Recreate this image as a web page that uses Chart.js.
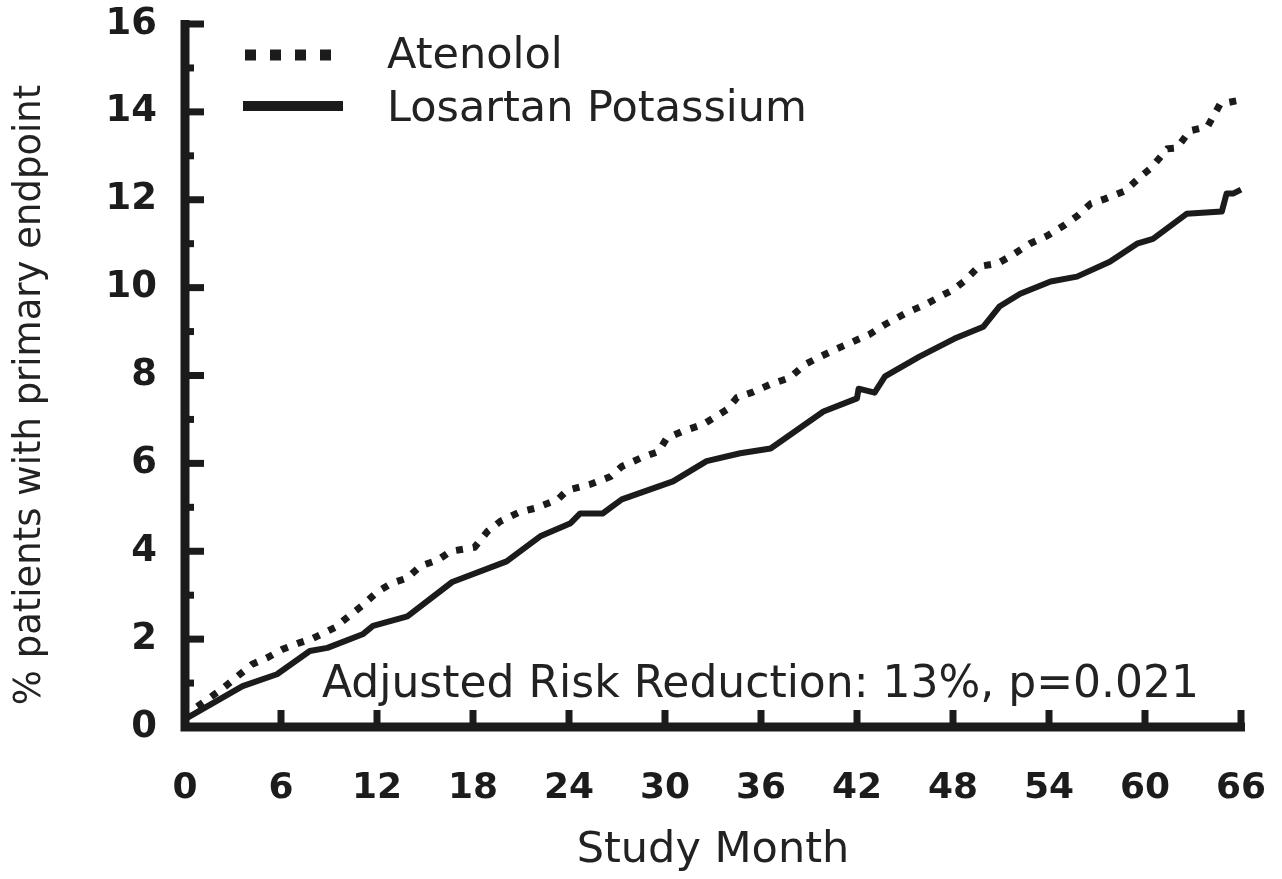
<!DOCTYPE html>
<html lang="en">
<head>
  <title>Primary endpoint by study month</title>
  <script src="https://cdn.jsdelivr.net/npm/chart.js"></script>
  <style>
    body { margin: 0; background: #fff; }
    .chart-container { width: 1282px; height: 879px; }
  </style>
</head>
<body>
  <div class="chart-container">
    <canvas id="endpointChart"></canvas>
  </div>

  <script>
    // Cumulative % of patients reaching the primary endpoint
    const atenololMonths = [0, 0.5, 1.25, 2.3, 3.3, 4.2, 5.1, 6.1, 7.1, 8.0, 9.4, 10.1, 11.1, 12.0, 12.9, 13.9,
      14.7, 15.8, 16.6, 18.1, 18.9, 19.7, 20.9, 21.9, 23.3, 23.9, 25.3, 26.6, 27.3, 28.6, 29.6, 30.1,
      31.1, 32.4, 33.9, 34.5, 35.4, 36.6, 37.8, 38.75, 39.6, 40.75, 41.75, 42.75, 43.75, 45.1, 46.25,
      47.2, 48.0, 48.75, 49.6, 50.8, 51.75, 52.8, 53.9, 55.0, 55.8, 56.6, 57.5, 58.75, 59.7, 60.4,
      61.4, 62.0, 62.8, 63.9, 64.7, 66.0];
    const atenololPct = [0.2, 0.4, 0.59, 0.86, 1.16, 1.43, 1.57, 1.77, 1.91, 2.02, 2.27, 2.48, 2.77, 3.07, 3.27, 3.39,
      3.66, 3.8, 4.0, 4.09, 4.45, 4.68, 4.89, 4.98, 5.18, 5.39, 5.52, 5.7, 5.93, 6.14, 6.27, 6.57,
      6.73, 6.89, 7.23, 7.5, 7.61, 7.8, 7.95, 8.25, 8.41, 8.61, 8.77, 8.93, 9.16, 9.43, 9.61,
      9.8, 9.95, 10.16, 10.48, 10.55, 10.75, 11.0, 11.18, 11.43, 11.64, 11.91, 12.02, 12.2, 12.52, 12.73,
      13.16, 13.18, 13.57, 13.66, 14.18, 14.27];

    const losartanMonths = [0, 3.6, 5.75, 7.8, 8.9, 11.1, 11.75, 13.9, 16.7, 20.1, 22.2, 24.1, 24.7, 26.1,
      27.3, 30.5, 32.6, 34.7, 36.6, 39.9, 42.0, 42.1, 43.1, 43.75, 45.9, 48.1, 49.9, 50.9, 52.2,
      54.1, 55.75, 57.8, 59.5, 60.5, 62.6, 64.8, 65.1, 65.5, 66.0];
    const losartanPct = [0.18, 0.93, 1.2, 1.73, 1.8, 2.11, 2.3, 2.52, 3.3, 3.77, 4.34, 4.64, 4.86, 4.86,
      5.18, 5.59, 6.05, 6.23, 6.34, 7.18, 7.48, 7.7, 7.61, 7.98, 8.43, 8.84, 9.11, 9.57, 9.86,
      10.14, 10.25, 10.59, 11.0, 11.11, 11.68, 11.73, 12.14, 12.14, 12.23];

    const seriesNames = ['Atenolol', 'Losartan Potassium'];
    const monthTicks = [0, 6, 12, 18, 24, 30, 36, 42, 48, 54, 60, 66];
    const pctTicks = [0, 2, 4, 6, 8, 10, 12, 14, 16];
    const yTitle = '% patients with primary endpoint';
    const annotationText = 'Adjusted Risk Reduction: 13%, p=0.021';

    const ink = '#1b1b1b';
    const textFont = 'DejaVu Sans';

    const toPoints = (xs, ys) => xs.map((x, i) => ({ x: x, y: ys[i] }));

    // Thick axes with inward ticks, legend, y title and annotation
    const paperAxes = {
      id: 'paperAxes',
      afterDatasetsDraw(chart) {
        const { ctx } = chart;
        const xs = chart.scales.x;
        const ys = chart.scales.y;
        const x0 = xs.getPixelForValue(0);
        const y0 = ys.getPixelForValue(0);

        ctx.save();
        ctx.strokeStyle = ink;
        ctx.fillStyle = ink;

        // axis lines
        ctx.lineWidth = 9;
        ctx.lineCap = 'butt';
        ctx.beginPath();
        ctx.moveTo(x0, ys.getPixelForValue(16) - 4);
        ctx.lineTo(x0, y0 + 4.5);
        ctx.moveTo(x0 - 4.5, y0);
        ctx.lineTo(xs.getPixelForValue(66) + 4, y0);
        ctx.stroke();

        // y ticks: long at even values, short at odd values
        ctx.lineWidth = 7;
        for (let v = 1; v <= 16; v++) {
          const py = ys.getPixelForValue(v);
          const len = v % 2 === 0 ? 19 : 9;
          ctx.beginPath();
          ctx.moveTo(x0, py);
          ctx.lineTo(x0 + len, py);
          ctx.stroke();
        }
        // x ticks every 6 months
        monthTicks.forEach(m => {
          if (m === 0) return;
          const px = xs.getPixelForValue(m);
          ctx.beginPath();
          ctx.moveTo(px, y0);
          ctx.lineTo(px, y0 - 17);
          ctx.stroke();
        });

        // legend samples
        ctx.lineWidth = 11;
        ctx.setLineDash([11, 14]);
        ctx.beginPath();
        ctx.moveTo(245, 55);
        ctx.lineTo(331, 55);
        ctx.stroke();
        ctx.setLineDash([]);
        ctx.lineWidth = 10;
        ctx.beginPath();
        ctx.moveTo(243, 106);
        ctx.lineTo(343, 106);
        ctx.stroke();

        ctx.fillStyle = '#222';
        ctx.textAlign = 'left';
        ctx.textBaseline = 'alphabetic';
        ctx.font = '43px "' + textFont + '"';
        ctx.fillText(seriesNames[0], 387, 68);
        ctx.fillText(seriesNames[1], 387, 121);

        ctx.font = '44px "' + textFont + '"';
        ctx.fillText(annotationText, 322, 697);

        // rotated y title, sitting a little below the plot centre
        ctx.translate(30, 395);
        ctx.rotate(-Math.PI / 2);
        ctx.textAlign = 'center';
        ctx.textBaseline = 'middle';
        ctx.font = '37px "' + textFont + '"';
        ctx.fillText(yTitle, 0, 0);
        ctx.restore();
      }
    };

    const ctx = document.getElementById('endpointChart').getContext('2d');
    const chart = new Chart(ctx, {
      type: 'line',
      data: {
        datasets: [{
          label: seriesNames[0],
          data: toPoints(atenololMonths, atenololPct),
          borderColor: ink,
          borderWidth: 7,
          borderDash: [7, 10],
          borderCapStyle: 'butt',
          pointRadius: 0,
          tension: 0,
          clip: false
        }, {
          label: seriesNames[1],
          data: toPoints(losartanMonths, losartanPct),
          borderColor: ink,
          borderWidth: 6,
          borderJoinStyle: 'round',
          pointRadius: 0,
          tension: 0,
          clip: false
        }]
      },
      options: {
        responsive: true,
        maintainAspectRatio: false,
        animation: false,
        layout: { padding: { top: 24, right: 41, bottom: 0, left: 0 } },
        plugins: {
          legend: { display: false },
          tooltip: { enabled: false }
        },
        scales: {
          x: {
            type: 'linear',
            min: 0,
            max: 66,
            afterFit(scale) { scale.height = 152; },
            afterBuildTicks(scale) { scale.ticks = monthTicks.map(v => ({ value: v })); },
            // tick marks are drawn by paperAxes; tickLength only spaces the labels
            grid: { display: false, drawTicks: true, tickLength: 40 },
            border: { display: false },
            ticks: {
              padding: 0,
              maxRotation: 0,
              autoSkip: false,
              color: '#1c1c1c',
              font: { family: textFont, weight: 'bold', size: 36 }
            },
            title: {
              display: true,
              text: 'Study Month',
              color: '#222',
              font: { family: textFont, size: 43 },
              padding: { top: 0, bottom: 2 }
            }
          },
          y: {
            min: 0,
            max: 16,
            afterFit(scale) { scale.width = 185; },
            afterBuildTicks(scale) { scale.ticks = pctTicks.map(v => ({ value: v })); },
            grid: { display: false, drawTicks: true, tickLength: 28 },
            border: { display: false },
            ticks: {
              padding: 0,
              color: '#1c1c1c',
              font: { family: textFont, weight: 'bold', size: 37 }
            }
          }
        }
      },
      plugins: [paperAxes]
    });
  </script>
</body>
</html>
